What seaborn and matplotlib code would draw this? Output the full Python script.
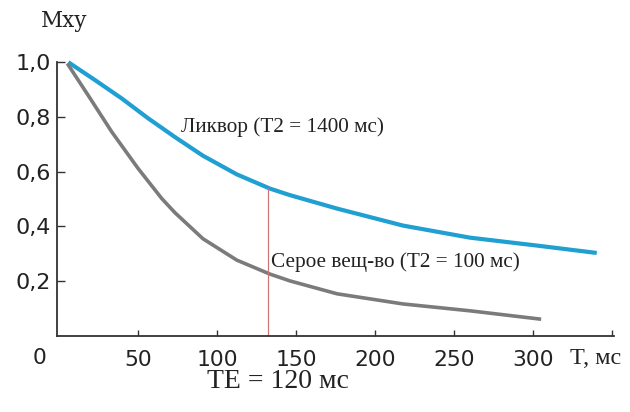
import matplotlib
matplotlib.use("Agg")
import matplotlib.pyplot as plt
import seaborn as sns
import pandas as pd

# --- data ---
csf_t = [7, 22.8, 39.7, 56.3, 73.4, 91.1, 112.5, 133.5, 146.2, 176, 217.7, 260, 302.5, 339]
csf_m = [0.995, 0.934, 0.867, 0.795, 0.726, 0.658, 0.590, 0.538, 0.514, 0.465, 0.403, 0.359, 0.330, 0.304]
gm_t = [5.9, 18.4, 33.4, 50, 65, 73.4, 91.1, 112.5, 133.5, 146.2, 176, 217.7, 260, 304]
gm_m = [0.989, 0.879, 0.745, 0.612, 0.502, 0.45, 0.355, 0.277, 0.226, 0.201, 0.154, 0.117, 0.092, 0.062]
te_pos = 132
te_top = 0.54
x_ticks = [50, 100, 150, 200, 250, 300, 350]
x_labels = ["50", "100", "150", "200", "250", "300", ""]
y_ticks = [0.2, 0.4, 0.6, 0.8, 1.0]
y_labels = ["0,2", "0,4", "0,6", "0,8", "1,0"]
csf_label = "Ликвор (T2 = 1400 мс)"
gm_label = "Серое вещ-во (T2 = 100 мс)"

csf = pd.DataFrame({"t": csf_t, "m": csf_m})
gm = pd.DataFrame({"t": gm_t, "m": gm_m})

fig = plt.figure(figsize=(6.3, 4.12), dpi=100)
ax = fig.add_axes([57.4 / 630, 76 / 412, 557.8 / 630, 287.7 / 412])

sns.lineplot(data=csf, x="t", y="m", ax=ax, color="#1f9fd2", linewidth=3.0)
sns.lineplot(data=gm, x="t", y="m", ax=ax, color="#7b7b7b", linewidth=2.6)
ax.vlines(te_pos, 0, te_top, color="#c87878", linewidth=0.9)

ax.set_xlim(-1, 352)
ax.set_ylim(0, 1.05)
for s in ["top", "right"]:
    ax.spines[s].set_visible(False)
ax.spines["left"].set_bounds(0, 1.0)
ax.spines["bottom"].set_bounds(-1, 351)
for s in ["left", "bottom"]:
    ax.spines[s].set_color("#333333")
    ax.spines[s].set_linewidth(1.3)

sans = "DejaVu Sans"
serif = "Liberation Serif"
ax.set_xticks(x_ticks)
ax.set_xticklabels(x_labels, fontfamily=sans, fontsize=15.7)
ax.set_yticks(y_ticks)
ax.set_yticklabels(y_labels, fontfamily=sans, fontsize=16)
ax.tick_params(axis="y", direction="in", length=6, width=1, pad=4.5, colors="#333333", labelcolor="#222222")
ax.tick_params(axis="x", direction="in", length=4, width=1, pad=10, colors="#333333", labelcolor="#222222")
ax.set_xlabel("")
ax.set_ylabel("")

ax.text(77, 0.762, csf_label, fontfamily=serif, fontsize=15.3, ha="left", va="center", color="#222222")
ax.text(134, 0.27, gm_label, fontfamily=serif, fontsize=15.3, ha="left", va="center", color="#222222")

fig.text(40 / 630, 1 - 358 / 412, "0", fontfamily=sans, fontsize=15.7, ha="center", va="center", color="#222222")
fig.text(570 / 630, 1 - 358 / 412, "T, мс", fontfamily=serif, fontsize=17.5, ha="left", va="center", color="#222222")
fig.text(278 / 630, 1 - 382 / 412, "TE = 120 мс", fontfamily=serif, fontsize=20, ha="center", va="center", color="#222222")
fig.text(64 / 630, 1 - 27 / 412, "Mxy", fontfamily="DejaVu Serif", fontsize=15.5, ha="center", va="baseline", color="#222222")

fig.savefig("out.png", dpi=100, facecolor="white")
